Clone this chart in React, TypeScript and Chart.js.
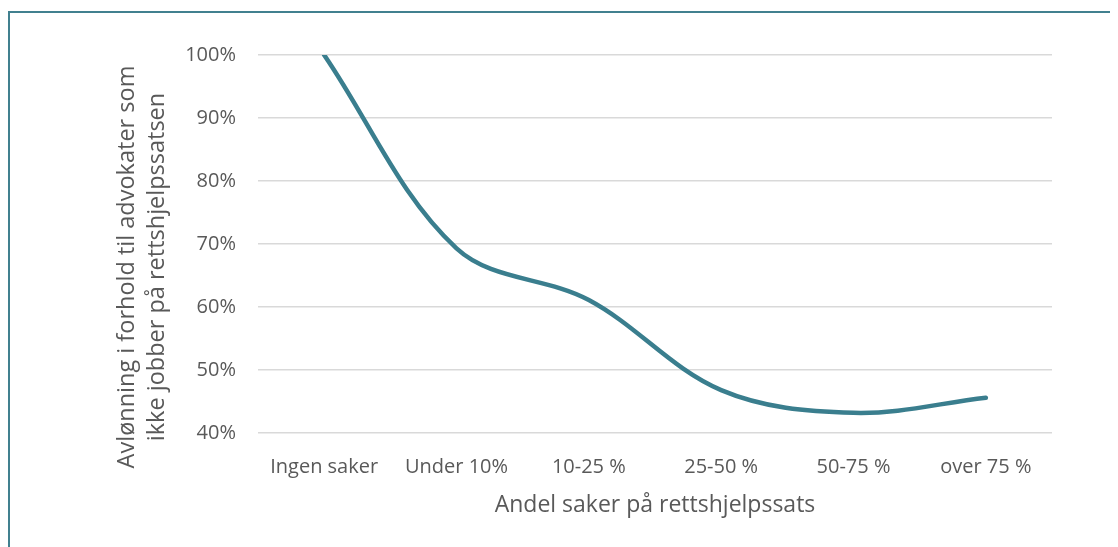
import { useEffect, useRef } from "react";
import { Chart, registerables } from "chart.js";

Chart.register(...registerables);

const categories = ["Ingen saker", "Under 10%", "10-25 %", "25-50 %", "50-75 %", "over 75 %"];
const values = [100, 69.3, 61.1, 46.8, 43.2, 45.6];
const yMin = 40;
const yMax = 100;
const yStep = 10;
const xTitle = "Andel saker på rettshjelpssats";
const yTitleLines = ["Avlønning i forhold til advokater som", "ikke jobber på rettshjelpssatsen"];

const TEXT = "#595959";
const LINE = "#3A7E8E";
const GRID = "#D9D9D9";
const FONT = '"Open Sans", "Noto Sans", sans-serif';

const yTitlePlugin = {
  id: "yTitleTwoLines",
  afterDraw(chart: any) {
    const ctx = chart.ctx;
    const ca = chart.chartArea;
    ctx.save();
    ctx.font = `23.5px ${FONT}`;
    ctx.fillStyle = TEXT;
    ctx.textAlign = "center";
    ctx.textBaseline = "middle";
    const cy = (ca.top + ca.bottom) / 2 + 23;
    yTitleLines.forEach((t, i) => {
      ctx.save();
      ctx.translate(119 + 30 * i, cy);
      ctx.rotate(-Math.PI / 2);
      ctx.fillText(t, 0, 0);
      ctx.restore();
    });
    ctx.restore();
  },
};

export default function App() {
  const ref = useRef<HTMLCanvasElement | null>(null);

  useEffect(() => {
    if (!ref.current) return;
    const chart = new Chart(ref.current, {
      type: "line",
      data: {
        labels: categories,
        datasets: [
          {
            data: values,
            borderColor: LINE,
            backgroundColor: LINE,
            borderWidth: 4.5,
            pointRadius: 0,
            tension: 0.35,
            borderCapStyle: "round",
            fill: false,
          },
        ],
      },
      options: {
        animation: false,
        responsive: false,
        devicePixelRatio: 1,
        layout: { padding: { top: 47, right: 66, left: 0, bottom: 0 } },
        plugins: {
          legend: { display: false },
          tooltip: { enabled: false },
        },
        scales: {
          x: {
            offset: true,
            grid: { display: false, drawTicks: false },
            border: { display: false },
            ticks: {
              color: TEXT,
              font: { family: FONT, size: 20 },
              padding: 22,
              maxRotation: 0,
              autoSkip: false,
            },
            title: {
              display: true,
              text: xTitle,
              color: TEXT,
              font: { family: FONT, size: 23 },
              padding: { top: 0, bottom: 28 },
            },
            afterFit(scale: any) {
              scale.height = 114;
            },
          },
          y: {
            min: yMin,
            max: yMax,
            grid: { color: GRID, lineWidth: 1.5, drawTicks: false },
            border: { display: false },
            ticks: {
              stepSize: yStep,
              color: TEXT,
              font: { family: FONT, size: 20 },
              padding: 22,
              callback: (v: any) => `${v}%`,
            },
            afterFit(scale: any) {
              scale.width = 250;
            },
          },
        },
      },
      plugins: [yTitlePlugin],
    });
    return () => chart.destroy();
  }, []);

  return (
    <div style={{ position: "relative", width: 1110, height: 539, overflow: "hidden" }}>
      <div
        style={{
          position: "absolute",
          left: 0,
          top: 3,
          width: 2000,
          height: 2000,
          borderTop: "2px solid #41808F",
          borderLeft: "2px solid #41808F",
        }}
      />
      <canvas ref={ref} width={1110} height={539} style={{ position: "absolute", left: 0, top: 0 }} />
    </div>
  );
}
